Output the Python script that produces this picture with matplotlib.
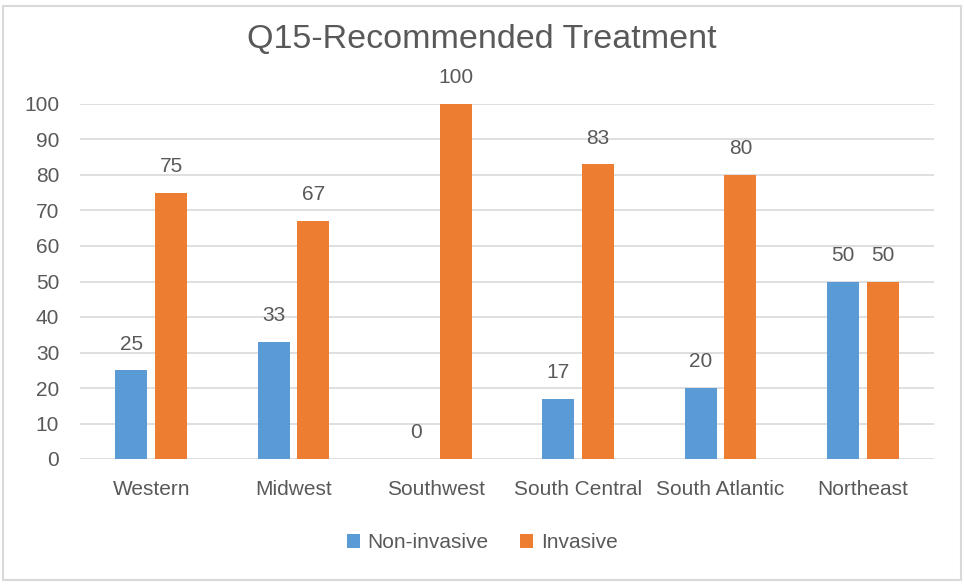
import numpy as np
import matplotlib.pyplot as plt
from matplotlib.patches import Rectangle

# data
regions = ["Western", "Midwest", "Southwest", "South Central", "South Atlantic", "Northeast"]
non_invasive = [25, 33, 0, 17, 20, 50]
invasive = [75, 67, 100, 83, 80, 50]

blue = "#5B9BD5"
orange = "#ED7D31"
txt = "#595959"

plt.rcParams['font.family'] = ['Liberation Sans', 'DejaVu Sans']

fig = plt.figure(figsize=(9.64, 5.84), dpi=100)
ax = fig.add_axes([80 / 964, 1 - 459 / 584, 854 / 964, 355 / 584])

x = np.arange(len(regions))
w = 0.225
off = 0.14
b1 = ax.bar(x - off, non_invasive, w, color=blue, label="Non-invasive", zorder=3)
b2 = ax.bar(x + off, invasive, w, color=orange, label="Invasive", zorder=3)

for bars, vals in [(b1, non_invasive), (b2, invasive)]:
    for r, v in zip(bars, vals):
        ax.annotate(str(v), (r.get_x() + r.get_width() / 2, v), xytext=(0, 12),
                    textcoords="offset points", ha="center", va="bottom",
                    fontsize=15, color=txt)

ax.set_xlim(-0.5, len(regions) - 0.5)
ax.set_ylim(0, 100)
ax.set_yticks(range(0, 101, 10))
ax.set_xticks(x)
ax.set_xticklabels(regions)
ax.tick_params(axis="both", length=0, labelsize=15, labelcolor=txt)
ax.tick_params(axis="x", pad=15)
ax.tick_params(axis="y", pad=15)
ax.grid(axis="y", color="#D9D9D9", linewidth=1.2, zorder=0)
for s in ax.spines.values():
    s.set_visible(False)

fig.text(0.5, 1 - 40 / 584, "Q15-Recommended Treatment", ha="center", va="center",
         fontsize=24.5, color=txt)

leg = fig.legend(handles=[b1, b2], loc="center", bbox_to_anchor=(0.5, 1 - 543 / 584),
                 ncol=2, frameon=False, fontsize=15, handlelength=0.65, handleheight=0.65,
                 columnspacing=1.5, handletextpad=0.35)
for t in leg.get_texts():
    t.set_color(txt)

# chart border
fig.patches.append(Rectangle((3 / 964, 4 / 584), 958 / 964, 574 / 584, transform=fig.transFigure,
                             fill=False, edgecolor="#D9D9D9", linewidth=1.5))

fig.savefig("out.png", dpi=100)
